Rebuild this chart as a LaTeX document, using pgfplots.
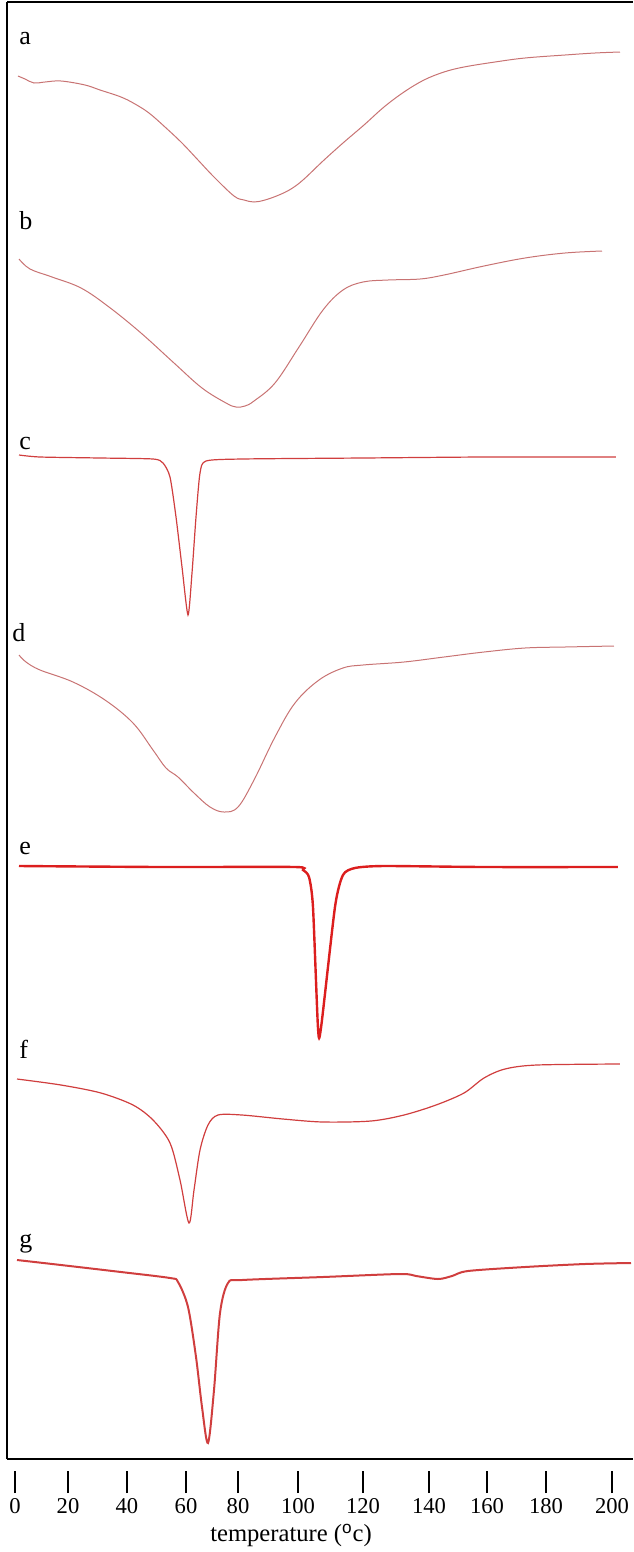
\documentclass[border=0pt]{standalone}
\usepackage{fontspec}
\setmainfont{Liberation Serif}
\newfontfamily\sansf{Liberation Sans}
\usepackage{pgfplots}
\pgfplotsset{compat=1.18}
\definecolor{lightred}{RGB}{200,115,115}
\definecolor{midred}{RGB}{208,62,62}
\definecolor{strongred}{RGB}{220,30,30}
\begin{document}
\begin{tikzpicture}
\useasboundingbox (0pt,0pt) rectangle (316.5pt,-776pt);
\begin{axis}[
  scale only axis, width=313pt, height=728.5pt,
  at={(3.5pt,-729.5pt)}, anchor=south west,
  xmin=-2.68, xmax=207.04, ymin=-1459, ymax=-2,
  axis x line*=box, axis y line*=left,
  axis line style={line width=1.1pt,-},
  xtick=\empty, ytick=\empty,
  clip=false,
]
% a
\addplot[lightred, line width=0.5pt, smooth, tension=0.6] coordinates {
(1.0,-76)(3.35,-79)(6.37,-83)(10.05,-82)(15.41,-81)(23.45,-85)(28.48,-90)(35.51,-97)(40.2,-104)(44.89,-113)(50.25,-127)(55.95,-143)(61.31,-160)(66.67,-177)(73.37,-196)(76.72,-200)(80.07,-202)(83.75,-200)(88.44,-195)(92.46,-189)(96.48,-180)(103.18,-161)(109.88,-143)(116.92,-125)(123.62,-107)(130.32,-92)(137.02,-80)(143.72,-72)(150.42,-67)(160.8,-62)(170.86,-58)(184.26,-55)(194.31,-53)(202.68,-52)};
% b
\addplot[lightred, line width=0.5pt, smooth, tension=0.6] coordinates {
(1.34,-259)(5.03,-269)(12.4,-277)(22.11,-288)(31.49,-307)(42.21,-333)(53.27,-363)(62.65,-388)(70.69,-403)(74.04,-407)(77.05,-406)(80.07,-401)(87.1,-383)(95.14,-347)(103.18,-310)(109.88,-290)(116.58,-282)(124.96,-280)(135.68,-279)(143.72,-275)(157.12,-266)(170.86,-258)(184.26,-253)(196.65,-251)};
% c
\addplot[midred, line width=0.6pt, smooth, tension=0.4] coordinates {
(1.34,-455)(8.38,-457)(28.48,-458)(46.23,-459)(49.58,-463)(51.93,-477)(53.94,-517)(55.95,-567)(57.96,-615)(59.3,-573)(60.64,-517)(61.98,-473)(63.99,-461)(76.05,-459)(116.58,-458)(157.12,-457)(201.34,-457)};
% d
\addplot[lightred, line width=0.5pt, smooth, tension=0.6] coordinates {
(1.34,-655)(3.69,-662)(8.38,-670)(19.43,-682)(30.15,-700)(39.53,-723)(46.23,-750)(50.59,-768)(54.61,-777)(59.97,-793)(65.33,-807)(70.02,-812)(74.71,-807)(80.07,-780)(87.1,-737)(93.8,-703)(101.84,-680)(109.88,-668)(116.58,-665)(130.32,-662)(143.72,-657)(157.12,-652)(170.86,-648)(184.26,-647)(200.67,-646)};
% e
\addplot[strongred, line width=1.2pt, smooth, tension=0.4] coordinates {
(1.34,-866)(48.91,-867)(93.8,-867)(96.48,-870)(98.49,-877)(99.83,-907)(101.51,-1028)(102.51,-1028)(107.2,-907)(109.88,-875)(113.9,-868)(123.62,-866)(157.12,-867)(202.01,-867)};
% f
\addplot[midred, line width=0.6pt, smooth, tension=0.5] coordinates {
(0.67,-1079)(15.41,-1085)(28.81,-1093)(39.53,-1105)(46.23,-1120)(51.93,-1143)(55.28,-1180)(58.29,-1223)(59.97,-1190)(61.98,-1150)(64.66,-1125)(68.01,-1115)(76.05,-1115)(89.78,-1119)(103.18,-1122)(119.26,-1121)(130.32,-1115)(141.04,-1105)(150.42,-1093)(157.12,-1078)(164.15,-1069)(174.87,-1065)(202.68,-1064)};
% g
\addplot[midred, line width=1pt, smooth, tension=0.5] coordinates {
(0.67,-1260)(15.41,-1265)(35.51,-1272)(51.93,-1278)(54.61,-1282)(57.96,-1307)(60.64,-1357)(62.65,-1407)(64.66,-1443)(66.67,-1390)(68.68,-1313)(71.36,-1283)(76.05,-1280)(103.18,-1277)(128.98,-1274)(134.34,-1276)(141.71,-1279)(146.4,-1276)(151.76,-1271)(170.86,-1267)(190.96,-1264)(206.37,-1263)};
\begin{scope}[every node/.style={anchor=base west, inner sep=0pt, font=\fontsize{13}{15}\selectfont}]
\node at (axis cs:1.34,-44) {a};
\node at (axis cs:1.34,-229) {b};
\node at (axis cs:1.34,-449) {c};
\node at (axis cs:-1.0,-641) {d};
\node at (axis cs:1.34,-854) {e};
\node at (axis cs:1.34,-1058) {f};
\node at (axis cs:1.34,-1247) {g};
\end{scope}
\end{axis}
\begin{axis}[
  scale only axis, width=313pt, height=11pt,
  at={(3.5pt,-746.5pt)}, anchor=south west,
  xmin=-2.68, xmax=207.04, ymin=0, ymax=1,
  axis x line*=bottom, axis y line=none,
  x axis line style={draw=none},
  tick align=inside, major tick length=11pt,
  xtick={0,17.76,37.52,57.29,74.71,94.81,116.58,138.69,158.12,177.89,200},
  xticklabels={0,20,40,60,80,100,120,140,160,180,200},
  xtick style={black, line width=0.8pt},
  xticklabel style={anchor=base, yshift=-10pt, inner sep=0pt, font=\fontsize{11.3}{13}\selectfont},
  xlabel={temperature ({\sansf\textsuperscript{o}}c)},
  xlabel style={at={(axis description cs:0.4537,-2.22)}, anchor=base, inner sep=0pt, font=\fontsize{12.3}{14}\selectfont},
]
\end{axis}
\end{tikzpicture}
\end{document}
